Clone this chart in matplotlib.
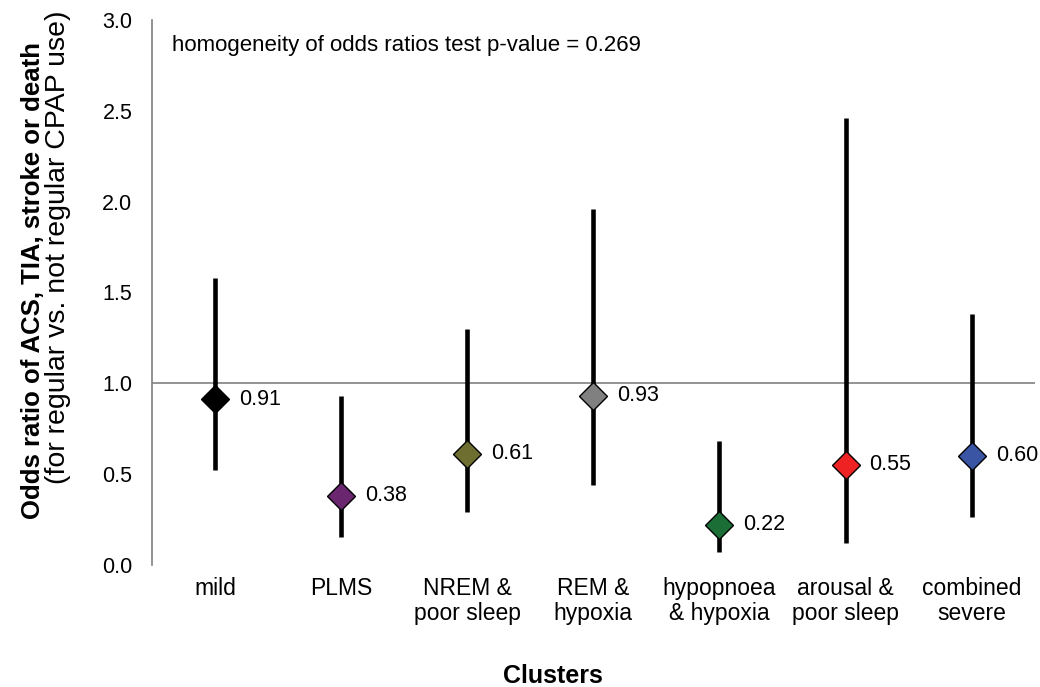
import numpy as np
import matplotlib
matplotlib.use("Agg")
import matplotlib.pyplot as plt

plt.rcParams['font.family'] = ['Liberation Sans', 'DejaVu Sans']

clusters = ["mild", "PLMS", "NREM &\npoor sleep", "REM &\nhypoxia",
            "hypopnoea\n& hypoxia", "arousal &\npoor sleep", "combined\nsevere"]
odds = [0.91, 0.38, 0.61, 0.93, 0.22, 0.55, 0.60]
ci_low = [0.52, 0.15, 0.29, 0.44, 0.07, 0.12, 0.26]
ci_high = [1.58, 0.93, 1.30, 1.96, 0.68, 2.46, 1.38]
colors = ["#000000", "#6b2670", "#6e6e30", "#808080", "#1b6e36", "#ee2222", "#3a55a4"]

fig = plt.figure(figsize=(10.4, 6.87), dpi=100)
ax = fig.add_axes([0.146, 0.178, 0.849, 0.793])

x = np.arange(len(clusters)) + 0.5
ax.axhline(1.0, color="#808080", lw=1.2, zorder=1)
ax.vlines(x, ci_low, ci_high, color="black", lw=3.3, zorder=2)
for xi, v, c in zip(x, odds, colors):
    ax.plot(xi, v, marker="D", ms=14, mfc=c, mec="black", mew=1.0, zorder=3)
    ax.text(xi + 0.19, v, f"{v:.2f}", fontsize=15.5, va="center", ha="left")

ax.set_xlim(0, 7)
ax.set_ylim(0, 3.0)
ax.set_yticks(np.arange(0, 3.01, 0.5))
ax.set_yticklabels([f"{t:.1f}" for t in np.arange(0, 3.01, 0.5)], fontsize=15.5)
ax.set_xticks(x)
ax.set_xticklabels(clusters, fontsize=16.5, linespacing=1.12, va="top")
ax.tick_params(axis="both", length=0)
ax.tick_params(axis="y", pad=14)
ax.tick_params(axis="x", pad=9)
for s in ["top", "right", "bottom"]:
    ax.spines[s].set_visible(False)
ax.spines["left"].set_color("#808080")
ax.spines["left"].set_linewidth(1.2)

ax.text(0.159, 2.86, "homogeneity of odds ratios test p-value = 0.269", fontsize=16,
        va="center", ha="left")

fig.text(0.032, 0.591, "Odds ratio of ACS, TIA, stroke or death", rotation=90,
         fontsize=18.5, fontweight="bold", ha="center", va="center")
fig.text(0.056, 0.64, "(for regular vs. not regular CPAP use)", rotation=90,
         fontsize=20.5, ha="center", va="center")
fig.text(0.532, 0.016, "Clusters", fontsize=18, fontweight="bold",
         ha="center", va="center")

fig.savefig("out.png", dpi=100)
